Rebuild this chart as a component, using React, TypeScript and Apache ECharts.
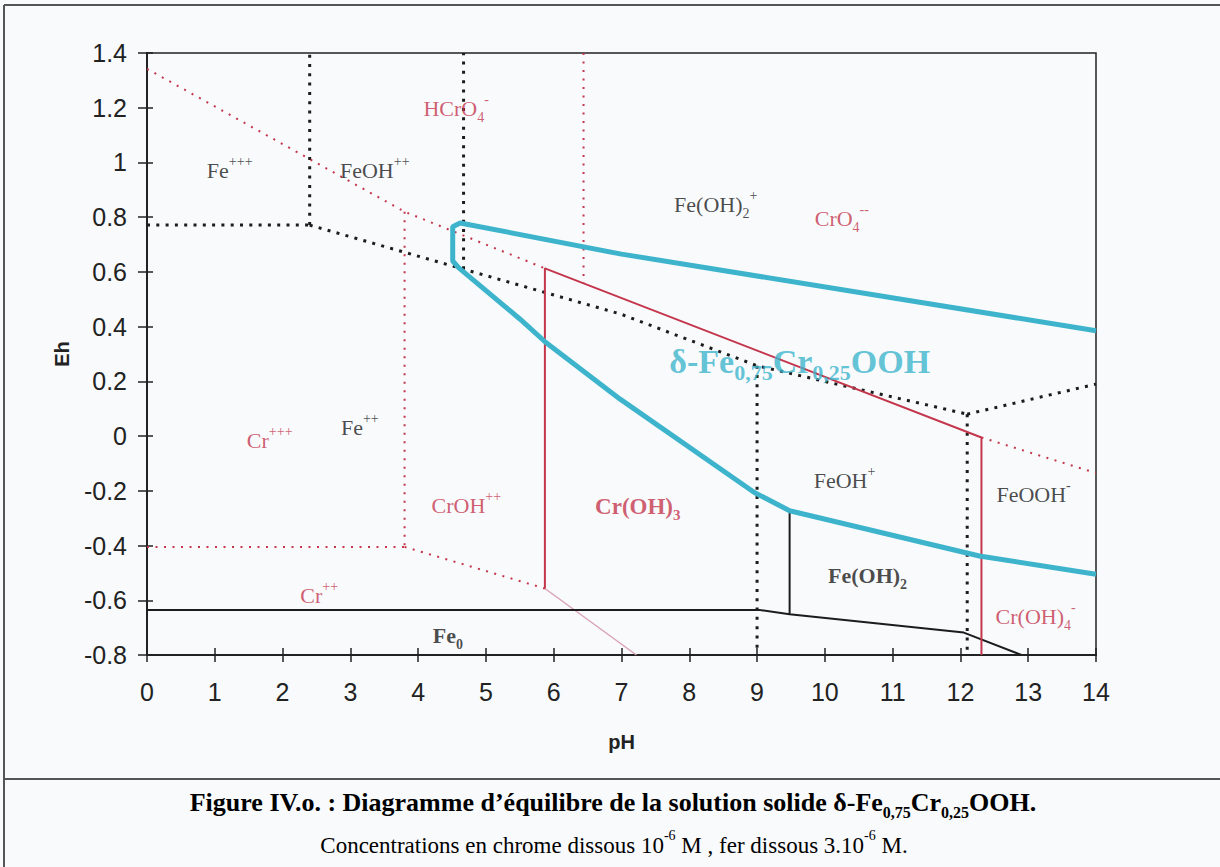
import React, { useEffect, useRef } from "react";
import * as echarts from "echarts";

// ---------- axis ranges ----------
const phMin = 0;
const phMax = 14;
const phStep = 1;
const ehMin = -0.8;
const ehMax = 1.4;
const ehStep = 0.2;

// ---------- Fe boundaries (black dotted) ----------
const feFe3Fe2 = [[0, 0.771], [2.4, 0.771]];
const feFe3FeOH = [[2.4, 0.771], [2.4, 1.4]];
const feFe2Upper = [[2.4, 0.771], [4.67, 0.61], [7.0, 0.445], [9.0, 0.257], [12.1, 0.08]];
const feFeOHOH2 = [[4.67, 0.61], [4.67, 1.4]];
const fePh9 = [[9.0, 0.257], [9.0, -0.8]];
const fePh12 = [[12.1, 0.08], [12.1, -0.8]];
const feFeOOH = [[12.1, 0.08], [14, 0.19]];

// ---------- Fe solid boundaries (black solid) ----------
const feMetal = [[0, -0.636], [9.05, -0.636], [9.48, -0.651], [12.05, -0.718], [12.9, -0.8]];
const feOH2Left = [[9.48, -0.651], [9.48, -0.275]];

// ---------- Cr boundaries (red dotted) ----------
const crUpper = [[0, 1.342], [3.8, 0.82], [5.87, 0.613]];
const crCr3CrOH = [[3.8, 0.82], [3.8, -0.405]];
const crCr2Horiz = [[0, -0.405], [3.8, -0.405]];
const crCr2Slope = [[3.8, -0.405], [5.87, -0.557]];
const crHCrO4CrO4 = [[6.44, 1.4], [6.44, 0.558]];
const crOH4Upper = [[12.31, -0.005], [14, -0.135]];

// ---------- Cr(OH)3 domain (red solid) ----------
const crOH3Domain = [[5.87, -0.557], [5.87, 0.613], [12.31, -0.005], [12.31, -0.8]];
// ---------- Cr metal / Cr++ (pink solid) ----------
const crMetal = [[5.87, -0.557], [7.22, -0.8]];

// ---------- δ-Fe0,75Cr0,25OOH stability (cyan) ----------
const deltaDomain = [
  [14, 0.385], [7.0, 0.665], [4.62, 0.779], [4.51, 0.765], [4.51, 0.64],
  [4.6, 0.615], [5.5, 0.428], [5.88, 0.343], [6.98, 0.135], [8.96, -0.206],
  [9.48, -0.273], [12.28, -0.438], [14, -0.505],
];

// ---------- region labels [pH, Eh, text] ----------
const feLabels: [number, number, string][] = [
  [1.22, 0.97, "{b|Fe}{sup|+++}"],
  [3.36, 0.97, "{b|FeOH}{sup|++}"],
  [8.39, 0.845, "{b|Fe(OH)}{sub|2}{sup|+}"],
  [3.14, 0.033, "{b|Fe}{sup|++}"],
  [10.29, -0.161, "{b|FeOH}{sup|+}"],
  [13.08, -0.212, "{b|FeOOH}{sup|-}"],
];
const feSolidLabels: [number, number, string][] = [
  [10.63, -0.508, "{b|Fe(OH)}{sub|2}"],
  [4.44, -0.728, "{b|Fe}{sub|0}"],
];
const crLabels: [number, number, string][] = [
  [4.56, 1.196, "{b|HCrO}{sub|4}{sup|-}"],
  [10.25, 0.797, "{b|CrO}{sub|4}{sup|--}"],
  [1.81, -0.015, "{b|Cr}{sup|+++}"],
  [4.71, -0.252, "{b|CrOH}{sup|++}"],
  [2.54, -0.581, "{b|Cr}{sup|++}"],
  [13.11, -0.658, "{b|Cr(OH)}{sub|4}{sup|-}"],
];
const crSolidLabels: [number, number, string][] = [
  [7.24, -0.256, "{b|Cr(OH)}{sub|3}"],
];
const deltaLabel: [number, number, string][] = [
  [9.63, 0.274, "{b|δ-Fe}{sub|0,75}{b|Cr}{sub|0,25}{b|OOH}"],
];

const captionTitle =
  "{b|Figure IV.o. : Diagramme d’équilibre de la solution solide δ-Fe}{sub|0,75}{b|Cr}{sub|0,25}{b|OOH.}";
const captionNote =
  "{b|Concentrations en chrome dissous 10}{sup|-6}{b| M , fer dissous 3.10}{sup|-6}{b| M.}";

const SERIF = "Liberation Serif";
const SANS = "Liberation Sans";
const BLACK = "#1c1c1c";
const RED = "#c4364c";
const CYAN = "#3db4cc";
const PINK = "#d9a3b4";
const AXIS = "#222";

function mkRich(color: string, size: number, bold: boolean, ratio = 0.64) {
  const fw = bold ? "bold" : "normal";
  const s = Math.round(size * ratio);
  return {
    b: { color, fontSize: size, fontFamily: SERIF, fontWeight: fw, lineHeight: size + 10, verticalAlign: "middle" },
    sup: { color, fontSize: s, fontFamily: SERIF, fontWeight: fw, lineHeight: s + 1, verticalAlign: "top" },
    sub: { color, fontSize: s, fontFamily: SERIF, fontWeight: fw, lineHeight: s + 1, verticalAlign: "bottom" },
  };
}

function lineSeries(data: number[][], color: string, width: number, type: any, z = 2) {
  return {
    type: "line",
    data,
    symbol: "none",
    silent: true,
    z,
    lineStyle: { color, width, type, cap: "butt" },
  };
}

function labelSeries(items: [number, number, string][], color: string, size: number, bold: boolean) {
  return {
    type: "scatter",
    silent: true,
    symbolSize: 1,
    z: 5,
    itemStyle: { color: "rgba(0,0,0,0)" },
    data: items.map((d) => ({ value: [d[0], d[1]], text: d[2] })),
    label: {
      show: true,
      position: "inside",
      formatter: (p: any) => p.data.text,
      rich: mkRich(color, size, bold),
    },
  };
}

const DOT_BLACK = [3, 6.3];
const DOT_RED = [2, 6.5];

export default function App() {
  const ref = useRef<HTMLDivElement>(null);
  useEffect(() => {
    if (!ref.current) return;
    const chart = echarts.init(ref.current, undefined, { renderer: "svg" });
    const axisLine = { show: true, onZero: false, lineStyle: { color: AXIS, width: 2 } };
    const tickStyle = { color: AXIS, width: 1.5 };
    const fmt = (v: number) => String(parseFloat(v.toFixed(1)));
    chart.setOption({
      animation: false,
      backgroundColor: "#f8fafc",
      grid: { left: 147, right: 124, top: 53, bottom: 212, show: true, borderColor: AXIS, borderWidth: 1.5, backgroundColor: "transparent" },
      xAxis: [
        {
          type: "value", axisLine, splitLine: { show: false },
          min: phMin, max: phMax, interval: phStep, position: "bottom",
          axisTick: { show: true, inside: false, length: 7, lineStyle: tickStyle },
          axisLabel: { color: AXIS, fontFamily: SANS, fontSize: 25, margin: 24, formatter: fmt },
          name: "pH", nameLocation: "middle", nameGap: 77,
          nameTextStyle: { color: AXIS, fontFamily: SANS, fontSize: 20, fontWeight: "bold" },
        },
        {
          type: "value", axisLine, splitLine: { show: false },
          min: phMin, max: phMax, interval: phStep, position: "bottom",
          axisTick: { show: true, inside: true, length: 7, lineStyle: tickStyle },
          axisLabel: { show: false },
        },
      ],
      yAxis: [
        {
          type: "value", axisLine, splitLine: { show: false },
          min: ehMin, max: ehMax, interval: ehStep, position: "left",
          axisTick: { show: true, inside: false, length: 9, lineStyle: tickStyle },
          axisLabel: { color: AXIS, fontFamily: SANS, fontSize: 25, margin: 20, formatter: fmt },
          name: "Eh", nameLocation: "middle", nameGap: 75, nameRotate: 90,
          nameTextStyle: { color: AXIS, fontFamily: SANS, fontSize: 20, fontWeight: "bold" },
        },
        {
          type: "value", axisLine, splitLine: { show: false },
          min: ehMin, max: ehMax, interval: ehStep, position: "left",
          axisTick: { show: true, inside: true, length: 6, lineStyle: tickStyle },
          axisLabel: { show: false },
        },
      ],
      series: [
        lineSeries(feFe3Fe2, BLACK, 3, DOT_BLACK),
        lineSeries(feFe3FeOH, BLACK, 3, DOT_BLACK),
        lineSeries(feFe2Upper, BLACK, 3, DOT_BLACK),
        lineSeries(feFeOHOH2, BLACK, 3, DOT_BLACK),
        lineSeries(fePh9, BLACK, 3, DOT_BLACK),
        lineSeries(fePh12, BLACK, 3, DOT_BLACK),
        lineSeries(feFeOOH, BLACK, 3, DOT_BLACK),
        lineSeries(crUpper, RED, 2, DOT_RED),
        lineSeries(crCr3CrOH, RED, 2, DOT_RED),
        lineSeries(crCr2Horiz, RED, 2, DOT_RED),
        lineSeries(crCr2Slope, RED, 2, DOT_RED),
        lineSeries(crHCrO4CrO4, RED, 2, DOT_RED),
        lineSeries(crOH4Upper, RED, 2, DOT_RED),
        lineSeries(crMetal, PINK, 1.5, "solid"),
        lineSeries(feMetal, BLACK, 2, "solid"),
        lineSeries(feOH2Left, BLACK, 2, "solid"),
        lineSeries(crOH3Domain, RED, 2, "solid"),
        lineSeries(deltaDomain, CYAN, 5, "solid", 3),
        labelSeries(feLabels, BLACK, 22, false),
        labelSeries(feSolidLabels, BLACK, 22, true),
        labelSeries(crLabels, RED, 22, false),
        labelSeries(crSolidLabels, RED, 23, true),
        labelSeries(deltaLabel, CYAN, 34, true),
      ],
      graphic: [
        { type: "line", shape: { x1: 4, y1: 5, x2: 1220, y2: 5 }, style: { stroke: "#555", lineWidth: 2 }, silent: true },
        { type: "line", shape: { x1: 4, y1: 5, x2: 4, y2: 867 }, style: { stroke: "#555", lineWidth: 2 }, silent: true },
        { type: "line", shape: { x1: 4, y1: 779, x2: 1220, y2: 779 }, style: { stroke: "#555", lineWidth: 2 }, silent: true },
        {
          type: "text", x: 613, y: 802, silent: true,
          style: { text: captionTitle, rich: mkRich("#111", 26, true, 0.6), align: "center", verticalAlign: "middle" },
        },
        {
          type: "text", x: 614, y: 845, silent: true,
          style: { text: captionNote, rich: mkRich("#111", 23, false, 0.6), align: "center", verticalAlign: "middle" },
        },
      ],
    });
    return () => chart.dispose();
  }, []);
  return (
    <div
      ref={ref}
      style={{ position: "fixed", left: 0, top: 0, width: 1220, height: 867, background: "#f8fafc" }}
    />
  );
}
